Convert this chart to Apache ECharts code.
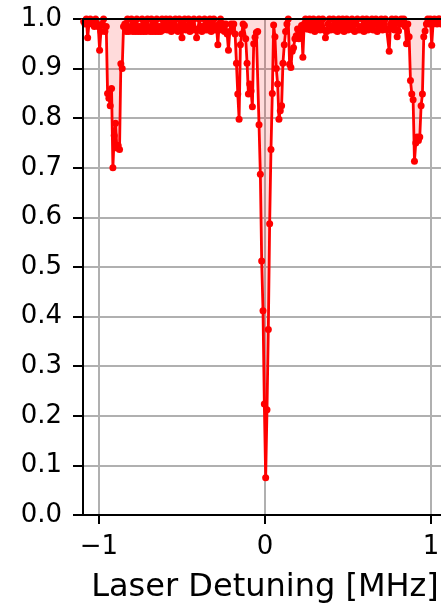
<!DOCTYPE html>
<html>
<head>
<meta charset="utf-8">
<script src="https://cdn.jsdelivr.net/npm/echarts@6/dist/echarts.min.js"></script>
<style>html,body{margin:0;padding:0;background:#fff;}#c{width:441px;height:603px;}</style>
</head>
<body>
<div id="c"></div>
<script>
// Laser detuning [MHz]
const detuning = [
-1.100,-1.092,-1.084,-1.076,-1.068,-1.060,-1.052,-1.044,-1.036,-1.028,
-1.020,-1.012,-1.004,-0.996,-0.988,-0.980,-0.972,-0.964,-0.956,-0.948,
-0.940,-0.932,-0.924,-0.916,-0.908,-0.900,-0.892,-0.884,-0.876,-0.868,
-0.860,-0.852,-0.844,-0.836,-0.828,-0.820,-0.812,-0.804,-0.796,-0.788,
-0.780,-0.772,-0.764,-0.756,-0.748,-0.740,-0.732,-0.724,-0.716,-0.708,
-0.700,-0.692,-0.684,-0.676,-0.668,-0.660,-0.652,-0.644,-0.636,-0.628,
-0.620,-0.612,-0.604,-0.596,-0.588,-0.580,-0.572,-0.564,-0.556,-0.548,
-0.540,-0.532,-0.524,-0.516,-0.508,-0.500,-0.492,-0.484,-0.476,-0.468,
-0.460,-0.452,-0.444,-0.436,-0.428,-0.420,-0.412,-0.404,-0.396,-0.388,
-0.380,-0.372,-0.364,-0.356,-0.348,-0.340,-0.332,-0.324,-0.316,-0.308,
-0.300,-0.292,-0.284,-0.276,-0.268,-0.260,-0.252,-0.244,-0.236,-0.228,
-0.220,-0.212,-0.204,-0.196,-0.188,-0.180,-0.172,-0.164,-0.156,-0.148,
-0.140,-0.132,-0.124,-0.116,-0.108,-0.100,-0.092,-0.084,-0.076,-0.068,
-0.060,-0.052,-0.044,-0.036,-0.028,-0.020,-0.012,-0.004,0.004,0.012,
0.020,0.028,0.036,0.044,0.052,0.060,0.068,0.076,0.084,0.092,
0.100,0.108,0.116,0.124,0.132,0.140,0.148,0.156,0.164,0.172,
0.180,0.188,0.196,0.204,0.212,0.220,0.228,0.236,0.244,0.252,
0.260,0.268,0.276,0.284,0.292,0.300,0.308,0.316,0.324,0.332,
0.340,0.348,0.356,0.364,0.372,0.380,0.388,0.396,0.404,0.412,
0.420,0.428,0.436,0.444,0.452,0.460,0.468,0.476,0.484,0.492,
0.500,0.508,0.516,0.524,0.532,0.540,0.548,0.556,0.564,0.572,
0.580,0.588,0.596,0.604,0.612,0.620,0.628,0.636,0.644,0.652,
0.660,0.668,0.676,0.684,0.692,0.700,0.708,0.716,0.724,0.732,
0.740,0.748,0.756,0.764,0.772,0.780,0.788,0.796,0.804,0.812,
0.820,0.828,0.836,0.844,0.852,0.860,0.868,0.876,0.884,0.892,
0.900,0.908,0.916,0.924,0.932,0.940,0.948,0.956,0.964,0.972,
0.980,0.988,0.996,1.004,1.012,1.020,1.028,1.036,1.044,1.052,
1.060
];
// Measured signal (normalised)
const signal = [
1.0,0.995,0.99,1.0,0.962,0.99,1.0,0.995,0.99,0.985,
1.0,0.99,0.985,0.937,0.975,0.99,1.0,0.975,0.985,0.85,
0.84,0.825,0.86,0.70,0.765,0.79,0.74,0.745,0.737,0.91,
0.90,0.985,0.99,0.975,1.0,0.975,0.98,1.0,0.975,0.99,
0.975,1.0,0.975,0.985,0.975,1.0,0.975,0.99,0.975,1.0,
0.98,0.975,1.0,0.975,0.99,0.975,1.0,0.975,0.985,0.975,
1.0,0.978,0.99,1.0,0.978,0.985,1.0,0.975,0.995,0.978,
1.0,0.98,0.975,1.0,0.978,0.962,0.99,1.0,0.978,0.985,
1.0,0.975,0.995,0.978,1.0,0.98,0.962,0.978,1.0,0.985,
0.975,0.985,1.0,0.978,0.99,0.978,1.0,0.975,0.99,1.0,
0.978,0.985,0.948,0.99,1.0,0.978,0.99,0.975,0.99,0.97,
0.937,0.975,0.99,0.983,0.99,0.97,0.911,0.849,0.798,0.948,
0.97,0.99,0.987,0.96,0.911,0.849,0.869,0.855,0.823,0.95,
0.963,0.973,0.975,0.787,0.687,0.512,0.412,0.224,0.075,0.212,
0.374,0.587,0.737,0.85,0.988,0.964,0.90,0.869,0.798,0.815,
0.825,0.911,0.948,0.975,0.99,1.0,0.909,0.902,0.935,0.942,
0.96,0.966,0.98,0.96,0.98,0.987,0.923,0.99,1.0,0.98,
0.98,1.0,0.978,0.99,1.0,0.975,0.995,0.98,1.0,0.978,
0.98,1.0,0.978,0.962,0.975,0.99,1.0,0.978,0.985,1.0,
0.978,0.99,0.975,1.0,0.98,0.978,1.0,0.975,0.99,1.0,
0.978,0.98,0.99,1.0,0.978,0.975,0.99,1.0,0.978,0.985,
0.978,1.0,0.975,0.99,1.0,0.978,0.98,0.99,1.0,0.978,
0.99,1.0,0.975,0.985,0.995,1.0,0.978,0.99,1.0,0.98,
0.978,0.935,0.99,1.0,0.98,0.978,1.0,0.964,0.976,0.99,
1.0,0.99,1.0,0.985,0.95,0.99,0.964,0.876,0.849,0.837,
0.713,0.75,0.762,0.755,0.762,0.825,0.849,0.964,0.976,0.99,
1.0,0.99,1.0,0.947,0.99,1.0,0.995,0.99,1.0,1.0,
0.99
];
const xTicks = [-1, 0, 1];
const xLabel = 'Laser Detuning [MHz]';

const pts = detuning.map((x, i) => [x, signal[i]]);
const FONT = 'DejaVu Sans';
const chart = echarts.init(document.getElementById('c'), null, {renderer: 'canvas'});
chart.setOption({
  animation: false,
  backgroundColor: '#fff',
  grid: {left: 83, top: 19, width: 364, height: 496, outerBoundsMode: 'none', containLabel: false,
    show: true, borderColor: '#000', borderWidth: 2, backgroundColor: 'transparent', z: 3},
  xAxis: {
    type: 'value', min: -1.096, max: 1.096,
    name: xLabel, nameLocation: 'middle', nameGap: 57,
    nameTextStyle: {fontFamily: FONT, fontSize: 32, color: '#000'},
    axisLine: {show: true, onZero: false, lineStyle: {color: '#000', width: 2}},
    axisTick: {show: true, length: 9, lineStyle: {color: '#000', width: 2}, customValues: xTicks},
    axisLabel: {customValues: xTicks, margin: 19, fontFamily: FONT, fontSize: 26, color: '#000',
      formatter: v => (v < 0 ? '\u2212' + Math.abs(v) : String(v))},
    splitLine: {show: true, lineStyle: {color: '#b0b0b0', width: 2}}
  },
  yAxis: {
    type: 'value', min: 0, max: 1, interval: 0.1,
    axisLine: {show: true, onZero: false, lineStyle: {color: '#000', width: 2}},
    axisTick: {show: true, length: 10, lineStyle: {color: '#000', width: 2}},
    axisLabel: {margin: 21, fontFamily: FONT, fontSize: 26, color: '#000', formatter: v => v.toFixed(1)},
    splitLine: {show: true, lineStyle: {color: '#b0b0b0', width: 2}}
  },
  series: [{
    type: 'line', data: pts, showAllSymbol: true, symbol: 'circle', symbolSize: 7,
    itemStyle: {color: '#ff0000'}, lineStyle: {color: '#ff0000', width: 2.8},
    areaStyle: {color: 'rgba(255,0,0,0.2)', origin: 'end'},
    clip: true, z: 2
  }]
});
</script>
</body>
</html>
